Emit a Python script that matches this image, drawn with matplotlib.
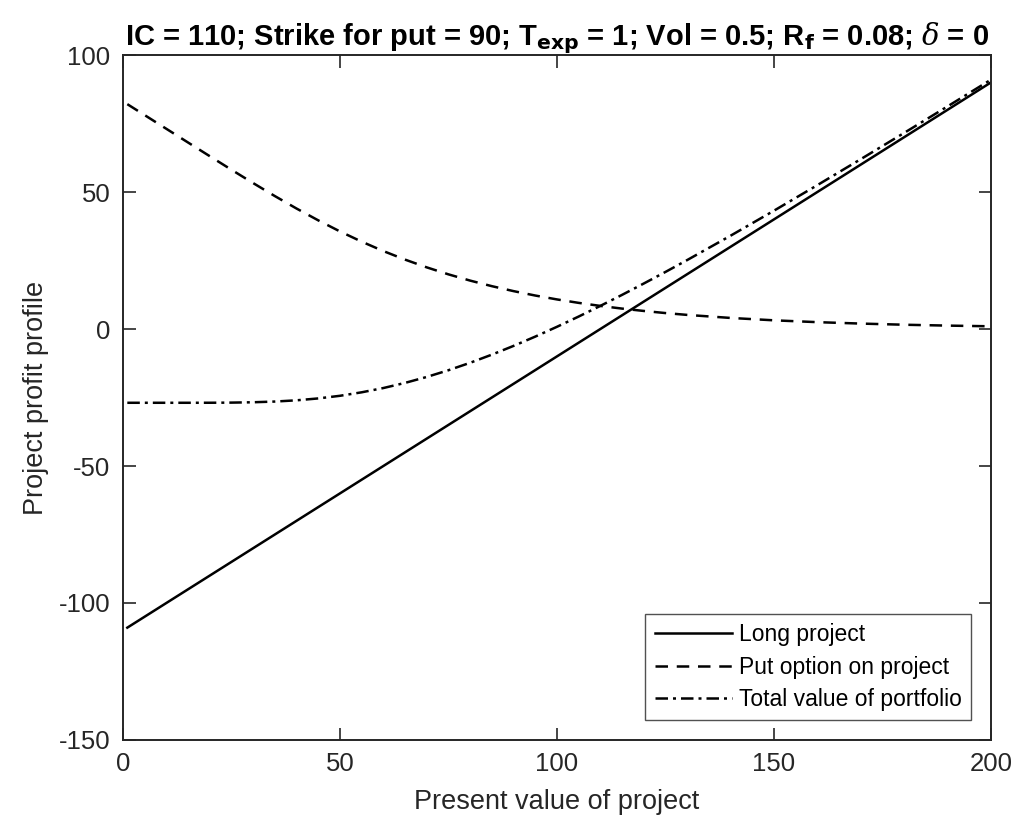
import numpy as np
import matplotlib
matplotlib.use('Agg')
import matplotlib.pyplot as plt

plt.rcParams['font.family'] = ['Liberation Sans', 'DejaVu Sans']
plt.rcParams['mathtext.fontset'] = 'custom'
plt.rcParams['mathtext.it'] = 'DejaVu Serif:italic'
plt.rcParams['axes.unicode_minus'] = False

# present value of project
pv = [1, 5, 10, 15, 20, 25, 30, 35, 40, 45, 50, 55, 60, 65, 70, 75, 80, 85,
      90, 95, 100, 105, 110, 115, 120, 125, 130, 140, 150, 160, 170, 180,
      190, 200]
long_proj = [-109, -105, -100, -95, -90, -85, -80, -75, -70, -65, -60, -55,
             -50, -45, -40, -35, -30, -25, -20, -15, -10, -5, 0, 5, 10, 15,
             20, 30, 40, 50, 60, 70, 80, 90]
put_opt = [82.08, 78.08, 73.08, 68.08, 63.09, 58.14, 53.27, 48.53, 43.98,
           39.67, 35.63, 31.90, 28.46, 25.34, 22.51, 19.96, 17.68, 15.65,
           13.84, 12.23, 10.81, 9.55, 8.44, 7.46, 6.60, 5.83, 5.16, 4.05,
           3.18, 2.51, 1.99, 1.57, 1.25, 1.00]
total = [-26.92, -26.92, -26.92, -26.92, -26.91, -26.86, -26.73, -26.47,
         -26.02, -25.33, -24.37, -23.10, -21.54, -19.66, -17.49, -15.04,
         -12.32, -9.35, -6.16, -2.77, 0.81, 4.55, 8.44, 12.46, 16.60, 20.83,
         25.16, 34.05, 43.18, 52.51, 61.99, 71.57, 81.25, 91.00]

fig = plt.figure(figsize=(10.3, 8.22), dpi=100)
ax = fig.add_axes([0.1194, 0.0998, 0.8426, 0.8332])

ax.plot(pv, long_proj, 'k-', lw=1.8, label='Long project')
ax.plot(pv, put_opt, 'k--', lw=1.8, dashes=(5, 3.5), label='Put option on project')
ax.plot(pv, total, 'k-.', lw=1.8, dashes=(5, 2, 1.2, 2), label='Total value of portfolio')

ax.set_xlim(0, 200)
ax.set_ylim(-150, 100)
ax.set_xticks([0, 50, 100, 150, 200])
ax.set_yticks([-150, -100, -50, 0, 50, 100])

axc = '#262626'
for s in ax.spines.values():
    s.set_color(axc)
    s.set_linewidth(1.4)
ax.tick_params(direction='in', length=9, width=1.2, colors=axc,
               labelsize=18.5, top=True, right=True, pad=9)

ax.set_xlabel('Present value of project', fontsize=19.5, color=axc, labelpad=9)
ax.set_ylabel('Project profit profile', fontsize=19.5, color=axc, labelpad=7)
ax.set_title(r'IC = 110; Strike for put = 90; T$_{\mathbf{exp}}$ = 1; Vol = 0.5; '
             r'R$_{\mathbf{f}}$ = 0.08; $\delta$ = 0',
             fontsize=21, fontweight='bold', pad=7)

leg = ax.legend(loc='lower right', fontsize=16.5, frameon=True, fancybox=False,
                edgecolor=axc, handlelength=3.4, borderaxespad=0.85,
                labelspacing=0.42, handletextpad=0.3, borderpad=0.4)
leg.get_frame().set_linewidth(1.0)

fig.savefig('out.png', dpi=100)
